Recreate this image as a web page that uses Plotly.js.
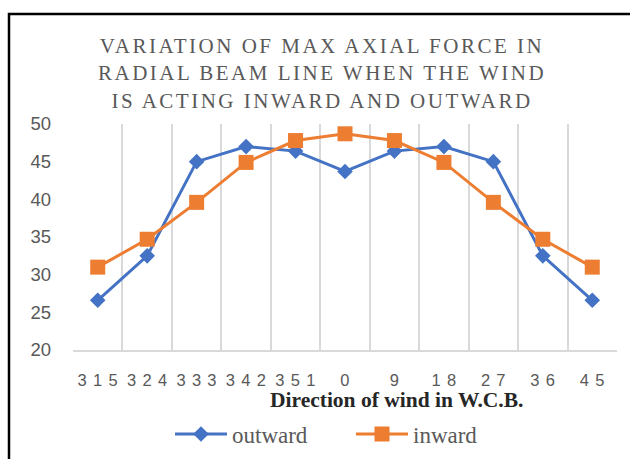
<!DOCTYPE html>
<html>
<head>
<meta charset="utf-8">
<script src="https://cdn.plot.ly/plotly-3.0.1.min.js"></script>
<style>
  html, body { margin: 0; padding: 0; background: #ffffff; }
  #chart { width: 630px; height: 459px; }
</style>
</head>
<body>
<div id="chart"></div>
<script>
// ---- data ----
var directions = ['315', '324', '333', '342', '351', '0', '9', '18', '27', '36', '45'];
var outward = [26.6, 32.5, 45, 47, 46.4, 43.7, 46.4, 47, 45, 32.5, 26.6];
var inward  = [31, 34.7, 39.6, 44.9, 47.8, 48.7, 47.8, 44.9, 39.6, 34.7, 31];
var yTicks = [20, 25, 30, 35, 40, 45, 50];
var seriesNames = ['outward', 'inward'];
var chartTitle = 'VARIATION OF MAX AXIAL FORCE IN<br>RADIAL BEAM LINE WHEN THE WIND<br>IS ACTING INWARD AND OUTWARD';
var xTitle = 'Direction of wind in W.C.B.';

var blue = '#4472C4', orange = '#ED7D31';

var traces = [
  {
    x: directions, y: outward, name: seriesNames[0], type: 'scatter', mode: 'lines+markers',
    line: {color: blue, width: 3},
    marker: {symbol: 'diamond', size: 12, color: blue}
  },
  {
    x: directions, y: inward, name: seriesNames[1], type: 'scatter', mode: 'lines+markers',
    line: {color: orange, width: 3},
    marker: {symbol: 'square', size: 15, color: orange}
  }
];

var L = 73, R = 617, T = 124, B = 350, W = 630, H = 459;
function px(x) { return (x - L) / (R - L); }
function py(y) { return (B - y) / (B - T); }

var layout = {
  width: W, height: H,
  margin: {l: L, r: W - R, t: T, b: H - B, pad: 0},
  paper_bgcolor: '#ffffff', plot_bgcolor: '#ffffff',
  showlegend: true,
  title: {
    text: chartTitle,
    font: {family: 'Liberation Serif, Times New Roman, serif', size: 21, color: '#595959'},
    xref: 'paper', x: px(322), xanchor: 'center',
    yref: 'container', y: 1 - 53 / H, yanchor: 'top'
  },
  xaxis: {
    type: 'category',
    categoryorder: 'array', categoryarray: directions,
    range: [-0.5, directions.length - 0.5],
    tickson: 'boundaries',
    showgrid: true, gridcolor: '#d9d9d9', gridwidth: 2,
    showline: true, linecolor: '#d9d9d9', linewidth: 2,
    ticks: '', ticklabelstandoff: 14,
    tickfont: {family: 'Liberation Sans, Arial, sans-serif', size: 16.5, color: '#595959'},
    zeroline: false, fixedrange: true,
    title: {text: ''}
  },
  yaxis: {
    range: [20, 50], tickvals: yTicks, ticktext: yTicks.map(String),
    showgrid: false, zeroline: false, showline: false,
    ticks: '', ticklabelstandoff: 21,
    tickfont: {family: 'Liberation Sans, Arial, sans-serif', size: 18.5, color: '#595959'},
    fixedrange: true
  },
  legend: {
    orientation: 'h', xref: 'paper', x: px(170), xanchor: 'left',
    yref: 'container', y: 1 - 434 / H, yanchor: 'middle',
    font: {family: 'Liberation Serif, Times New Roman, serif', size: 23, color: '#595959'},
    itemwidth: 52, entrywidth: 114, entrywidthmode: 'pixels',
    tracegroupgap: 0, bgcolor: 'rgba(0,0,0,0)'
  },
  annotations: [
    {
      text: '<b>' + xTitle + '</b>', showarrow: false,
      xref: 'paper', x: px(396), xanchor: 'center',
      yref: 'paper', y: py(400), yanchor: 'middle',
      font: {family: 'Liberation Serif, Times New Roman, serif', size: 21.5, color: '#262626'}
    }
  ],
  shapes: [
    {
      type: 'rect', xref: 'paper', yref: 'paper',
      x0: px(9), x1: px(680), y0: py(480), y1: py(14),
      line: {color: '#000000', width: 2.5}, fillcolor: 'rgba(0,0,0,0)', layer: 'above'
    }
  ]
};

Plotly.newPlot('chart', traces, layout, {displayModeBar: false, staticPlot: true}).then(function (gd) {
  var t = gd.querySelector('.gtitle');
  if (t) t.setAttribute('letter-spacing', '2.5px');
  gd.querySelectorAll('.xtick text').forEach(function (el) {
    el.setAttribute('letter-spacing', '6.3px');
    el.setAttribute('transform', (el.getAttribute('transform') || '') + ' translate(3,0)');
  });
});
</script>
</body>
</html>
